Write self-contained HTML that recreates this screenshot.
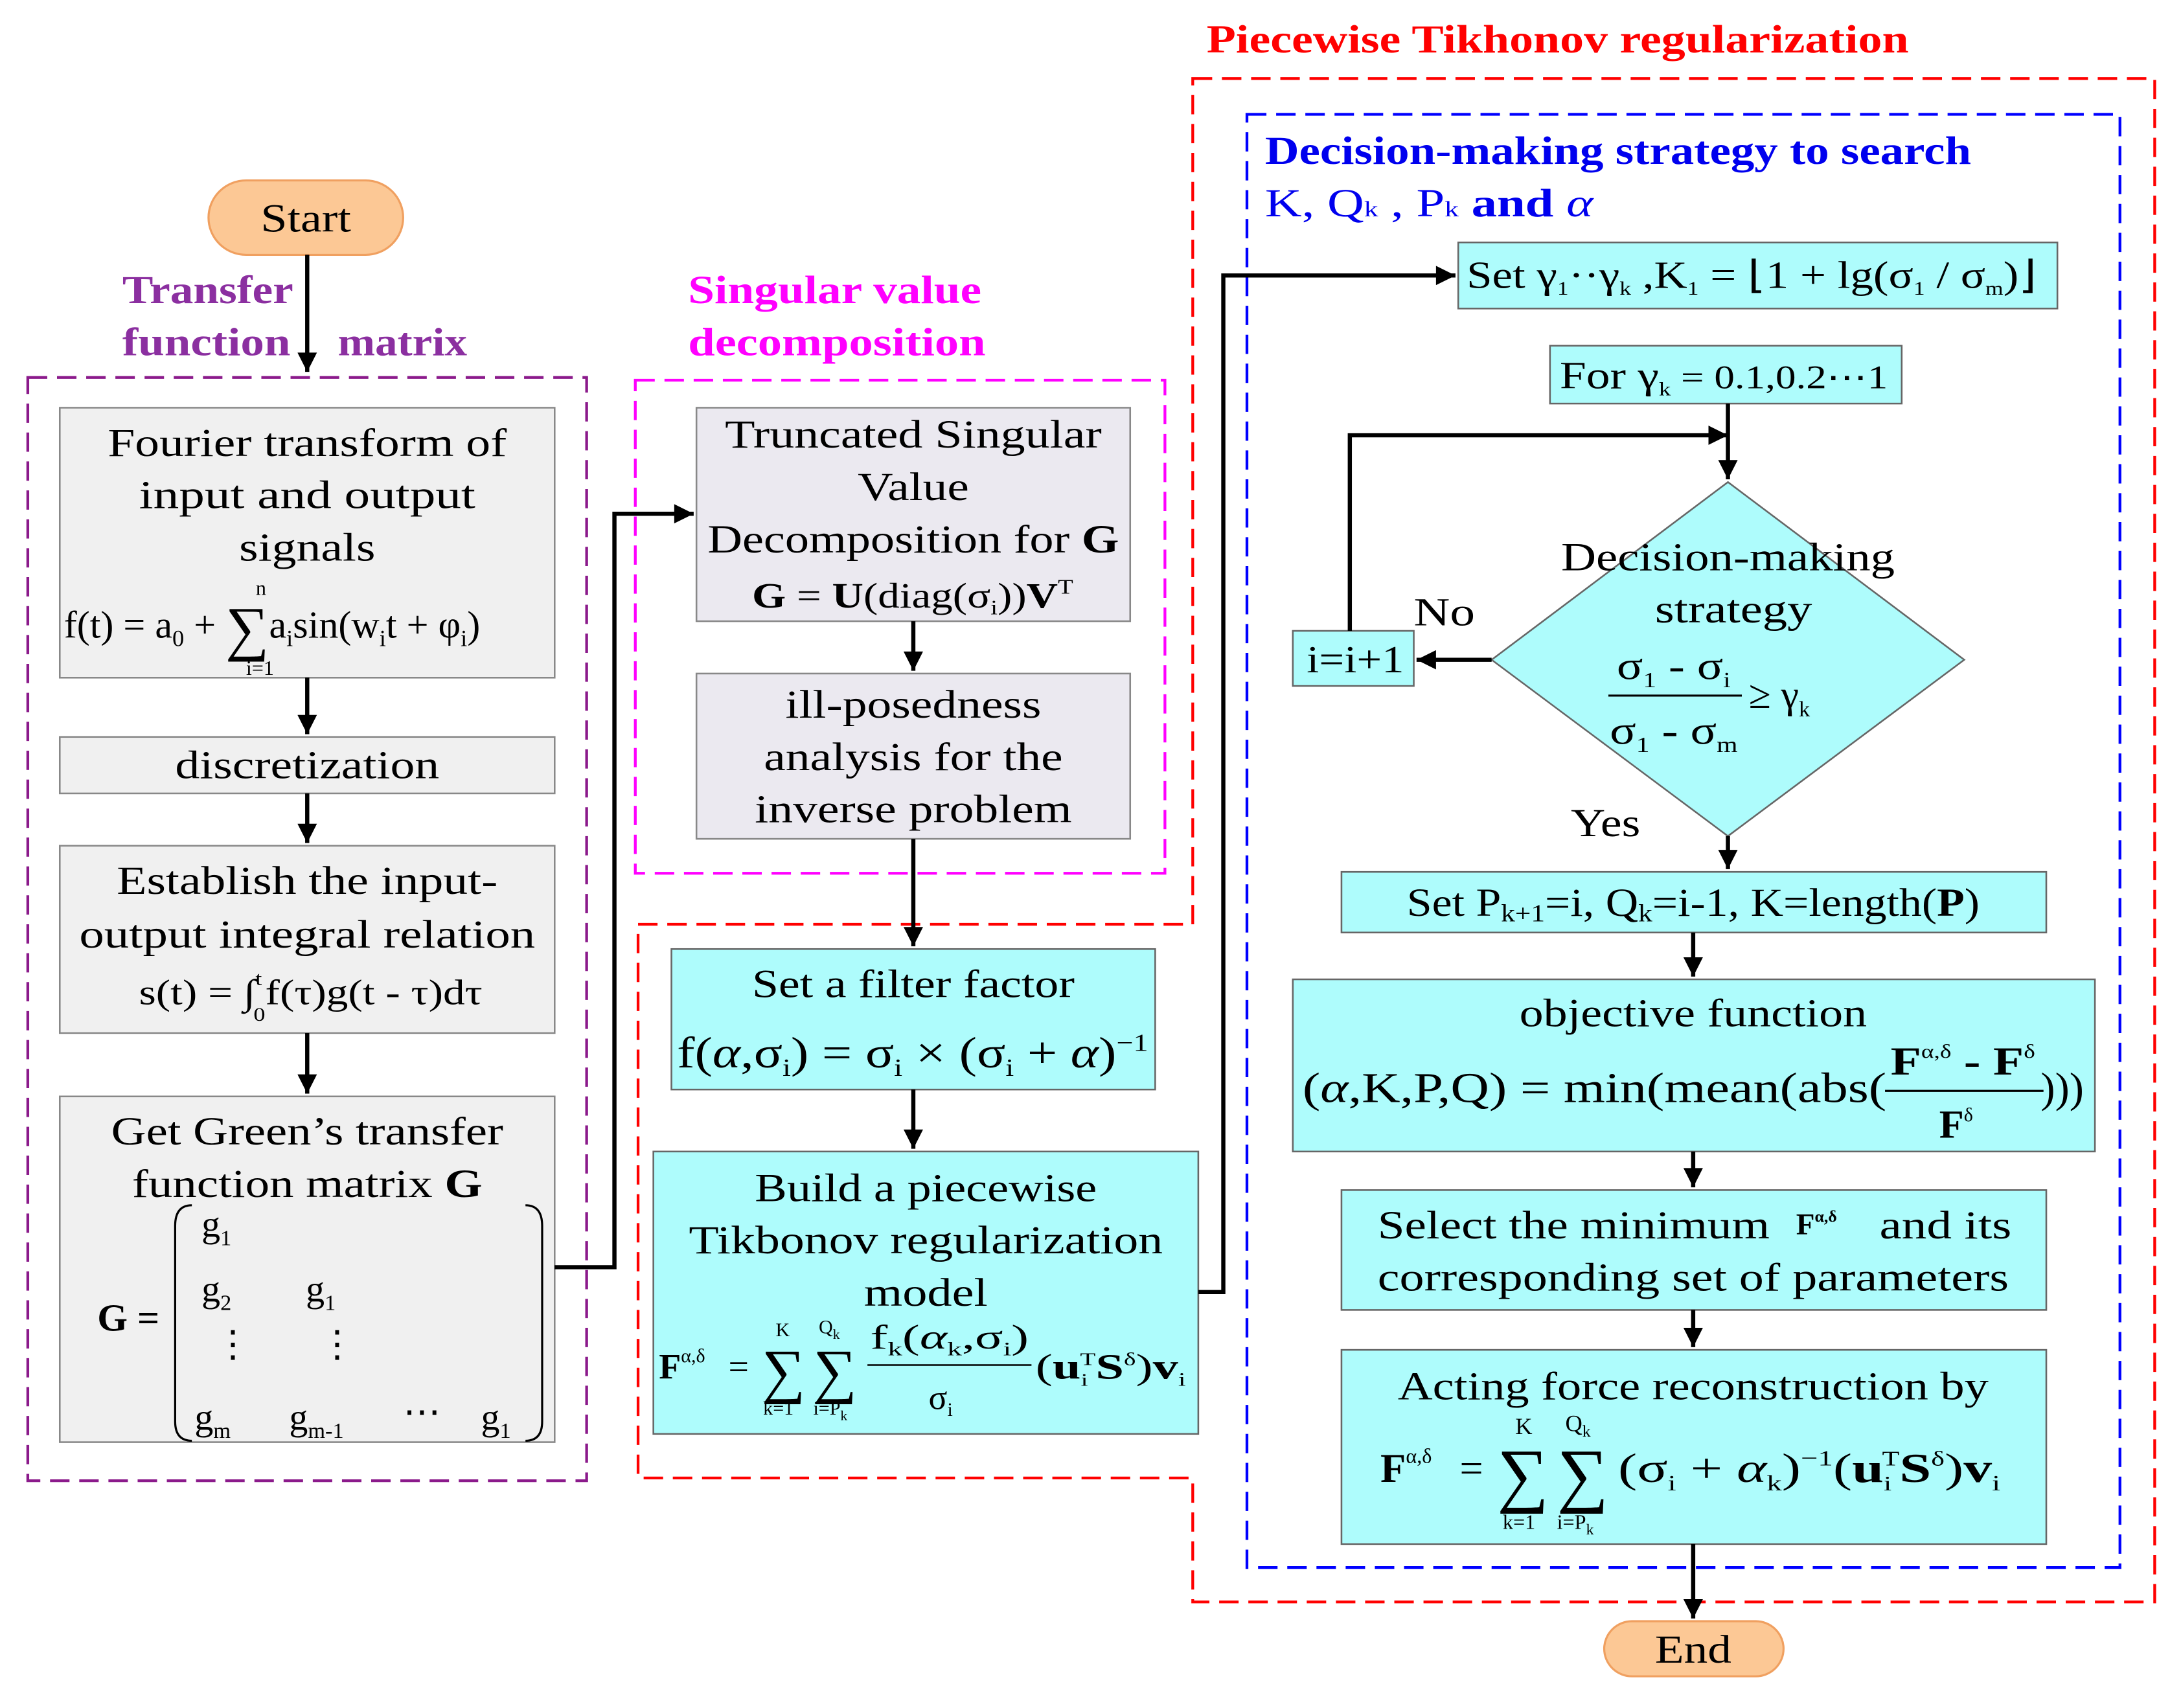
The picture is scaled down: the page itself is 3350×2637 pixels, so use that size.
<!DOCTYPE html>
<html><head><meta charset="utf-8"><style>
html,body{margin:0;padding:0;background:#fff}
svg{display:block}
text{font-family:"Liberation Serif",serif;fill:#000}
.t{font-size:29px}
.s{font-size:24px}
.b{font-weight:bold}
</style></head><body>
<svg width="3350" height="2637" viewBox="0 0 1561 1240" preserveAspectRatio="none" xmlns="http://www.w3.org/2000/svg">
<defs>
<marker id="A" viewBox="0 0 10 10" markerWidth="16" markerHeight="14" refX="10" refY="5" orient="auto" markerUnits="userSpaceOnUse"><path d="M0,0 L10,5 L0,10 z" fill="#000"/></marker></defs>
<!-- dashed containers -->
<rect x="20" y="274" width="402" height="801" fill="none" stroke="#8b1a8b" stroke-width="2" stroke-dasharray="14,7"/>
<rect x="457" y="276" width="381" height="358" fill="none" stroke="#ff00ff" stroke-width="2" stroke-dasharray="14,7"/>
<path d="M858,57 H1550 V1163 H858 V1073 H459 V671 H858 Z" fill="none" stroke="#ff0000" stroke-width="2" stroke-dasharray="14,7"/>
<rect x="897" y="83" width="628" height="1055" fill="none" stroke="#0000ff" stroke-width="2" stroke-dasharray="14,7"/>
<!-- titles -->
<text x="868" y="38" class="b" font-size="29" style="fill:#ff0000" textLength="505" lengthAdjust="spacingAndGlyphs">Piecewise Tikhonov regularization</text>
<text x="910" y="119" class="b" font-size="29" style="fill:#0000ee" textLength="508" lengthAdjust="spacingAndGlyphs">Decision-making strategy to search</text>
<text x="910" y="157" font-size="29" style="fill:#0000ee" textLength="236" lengthAdjust="spacingAndGlyphs">K, Q<tspan font-size="16">k</tspan> ,  P<tspan font-size="16">k</tspan>  <tspan font-weight="bold">and</tspan>  <tspan font-style="italic">α</tspan></text>
<text x="88" y="220" class="b" font-size="29" style="fill:#8b2fa0" textLength="123" lengthAdjust="spacingAndGlyphs">Transfer</text>
<text x="88" y="258" class="b" font-size="29" style="fill:#8b2fa0" textLength="121" lengthAdjust="spacingAndGlyphs">function</text>
<text x="243" y="258" class="b" font-size="29" style="fill:#8b2fa0" textLength="93" lengthAdjust="spacingAndGlyphs">matrix</text>
<text x="495" y="220" class="b" font-size="29" style="fill:#ff00ff" textLength="211" lengthAdjust="spacingAndGlyphs">Singular value</text>
<text x="495" y="258" class="b" font-size="29" style="fill:#ff00ff" textLength="214" lengthAdjust="spacingAndGlyphs">decomposition</text>
<!-- Start -->
<rect x="150" y="131" width="140" height="54" rx="27" fill="#fcc895" stroke="#f0a060" stroke-width="1.5"/>
<text x="220" y="168" class="t" text-anchor="middle" textLength="65" lengthAdjust="spacingAndGlyphs">Start</text>
<!-- left gray boxes -->
<g fill="#f0f0f0" stroke="#888" stroke-width="1.2">
<rect x="43" y="296" width="356" height="196"/>
<rect x="43" y="535" width="356" height="41"/>
<rect x="43" y="614" width="356" height="136"/>
<rect x="43" y="796" width="356" height="251"/>
</g>
<g class="t" text-anchor="middle" lengthAdjust="spacingAndGlyphs">
<text x="221" y="331" textLength="287" lengthAdjust="spacingAndGlyphs">Fourier transform of</text>
<text x="221" y="369" textLength="242" lengthAdjust="spacingAndGlyphs">input and output</text>
<text x="221" y="407" textLength="98" lengthAdjust="spacingAndGlyphs">signals</text>
<text x="221" y="565" textLength="190" lengthAdjust="spacingAndGlyphs">discretization</text>
<text x="221" y="649" textLength="274" lengthAdjust="spacingAndGlyphs">Establish the input-</text>
<text x="221" y="688" textLength="328" lengthAdjust="spacingAndGlyphs">output integral relation</text>
<text x="221" y="831" textLength="282" lengthAdjust="spacingAndGlyphs">Get Green’s transfer</text>
<text x="221" y="869" textLength="252" lengthAdjust="spacingAndGlyphs">function matrix <tspan font-weight="bold">G</tspan></text>
</g>
<text x="46" y="463" font-size="28">f(t) = a<tspan font-size="17" dy="6">0</tspan><tspan dy="-6"> + </tspan><tspan font-size="44" dy="8">∑</tspan><tspan dy="-8">a</tspan><tspan font-size="17" dy="6">i</tspan><tspan dy="-6">sin(w</tspan><tspan font-size="17" dy="6">i</tspan><tspan dy="-6">t + φ</tspan><tspan font-size="17" dy="6">i</tspan><tspan dy="-6">)</tspan></text>
<text x="184" y="432" font-size="15">n</text><text x="177" y="490" font-size="15">i=1</text>
<text x="100" y="729" font-size="26" textLength="247" lengthAdjust="spacingAndGlyphs">s(t) = ∫<tspan font-size="14" dy="-14">t</tspan><tspan font-size="14" dx="-5" dy="26">0</tspan><tspan dy="-12">f(τ)g(t - τ)dτ</tspan></text>
<!-- matrix -->
<text x="70" y="966" font-size="28" class="b">G =</text>
<path d="M138,875 Q126,875 126,890 V1032 Q126,1046 138,1046" fill="none" stroke="#000" stroke-width="1.5"/>
<path d="M378,875 Q390,875 390,890 V1032 Q390,1046 378,1046" fill="none" stroke="#000" stroke-width="1.5"/>
<g font-size="27">
<text x="145" y="898">g<tspan font-size="16" dy="6">1</tspan></text>
<text x="145" y="945">g<tspan font-size="16" dy="6">2</tspan></text>
<text x="220" y="945">g<tspan font-size="16" dy="6">1</tspan></text>
<text x="154" y="985">⋮</text><text x="229" y="985">⋮</text>
<text x="140" y="1038">g<tspan font-size="16" dy="6">m</tspan></text>
<text x="208" y="1038">g<tspan font-size="16" dy="6">m-1</tspan></text>
<text x="290" y="1034">⋯</text>
<text x="346" y="1038">g<tspan font-size="16" dy="6">1</tspan></text>
</g>
<!-- middle -->
<g fill="#ebe9f0" stroke="#888" stroke-width="1.2">
<rect x="501" y="296" width="312" height="155"/>
<rect x="501" y="489" width="312" height="120"/>
</g>
<g fill="#aefcfc" stroke="#666" stroke-width="1.2">
<rect x="483" y="689" width="348" height="102"/>
<rect x="470" y="836" width="392" height="205"/>
<rect x="1049" y="176" width="431" height="48"/>
<rect x="1115" y="251" width="253" height="42"/>
<polygon points="1243,350 1413,479 1243,607 1073,479"/>
<rect x="930" y="458" width="87" height="40"/>
<rect x="965" y="633" width="507" height="44"/>
<rect x="930" y="711" width="577" height="125"/>
<rect x="965" y="864" width="507" height="87"/>
<rect x="965" y="980" width="507" height="141"/>
</g>
<g class="t" text-anchor="middle">
<text x="657" y="325" textLength="271" lengthAdjust="spacingAndGlyphs">Truncated Singular</text>
<text x="657" y="363" textLength="80" lengthAdjust="spacingAndGlyphs">Value</text>
<text x="657" y="401" textLength="296" lengthAdjust="spacingAndGlyphs">Decomposition for <tspan font-weight="bold">G</tspan></text>
<text x="657" y="521" textLength="184" lengthAdjust="spacingAndGlyphs">ill-posedness</text>
<text x="657" y="559" textLength="215" lengthAdjust="spacingAndGlyphs">analysis for the</text>
<text x="657" y="597" textLength="228" lengthAdjust="spacingAndGlyphs">inverse problem</text>
<text x="657" y="724" textLength="232" lengthAdjust="spacingAndGlyphs">Set a filter factor</text>
<text x="666" y="872" textLength="246" lengthAdjust="spacingAndGlyphs">Build a piecewise</text>
<text x="666" y="910" textLength="341" lengthAdjust="spacingAndGlyphs">Tikbonov regularization</text>
<text x="666" y="948" textLength="89" lengthAdjust="spacingAndGlyphs">model</text>
<text x="1243" y="414" textLength="240" lengthAdjust="spacingAndGlyphs">Decision-making</text>
<text x="1247" y="452" textLength="113" lengthAdjust="spacingAndGlyphs">strategy</text>
<text x="1218" y="745" textLength="250" lengthAdjust="spacingAndGlyphs">objective function</text>
<text x="1218" y="937" textLength="454" lengthAdjust="spacingAndGlyphs">corresponding set of parameters</text>
<text x="1218" y="1016" textLength="425" lengthAdjust="spacingAndGlyphs">Acting force reconstruction by</text>
<text x="1218" y="1207" textLength="55" lengthAdjust="spacingAndGlyphs">End</text>
</g>
<text x="991" y="899" class="t" textLength="282" lengthAdjust="spacingAndGlyphs">Select the minimum</text>
<text x="1292" y="896" font-size="22" font-weight="bold">F<tspan font-size="12" dy="-9">α,δ</tspan></text>
<text x="1352" y="899" class="t" textLength="95" lengthAdjust="spacingAndGlyphs">and its</text>
<text x="541" y="441" font-size="26" textLength="231" lengthAdjust="spacingAndGlyphs"><tspan font-weight="bold">G</tspan> = <tspan font-weight="bold">U</tspan>(diag(σ<tspan font-size="15" dy="5">i</tspan><tspan dy="-5">))</tspan><tspan font-weight="bold">V</tspan><tspan font-size="15" dy="-10">T</tspan></text>
<text x="487" y="775" font-size="32" textLength="339" lengthAdjust="spacingAndGlyphs">f(<tspan font-style="italic">α</tspan>,σ<tspan font-size="18" dy="6">i</tspan><tspan dy="-6">) = σ</tspan><tspan font-size="18" dy="6">i</tspan><tspan dy="-6"> × (σ</tspan><tspan font-size="18" dy="6">i</tspan><tspan dy="-6"> + </tspan><tspan font-style="italic">α</tspan>)<tspan font-size="18" dy="-12">−1</tspan></text>
<!-- build formula -->
<text x="474" y="1001" font-size="26" font-weight="bold">F<tspan font-size="14" dy="-12" font-weight="normal">α,δ</tspan></text>
<text x="524" y="1001" font-size="26">=</text>
<text x="548" y="1010" font-size="44">∑</text><text x="585" y="1010" font-size="44">∑</text>
<text x="558" y="970" font-size="14">K</text><text x="589" y="968" font-size="14">Q<tspan font-size="10" dy="4">k</tspan></text>
<text x="549" y="1027" font-size="14">k=1</text><text x="585" y="1027" font-size="14">i=P<tspan font-size="10" dy="4">k</tspan></text>
<text x="626" y="979" font-size="25" textLength="114" lengthAdjust="spacingAndGlyphs">f<tspan font-size="14" dy="5">k</tspan><tspan dy="-5">(</tspan><tspan font-style="italic">α</tspan><tspan font-size="14" dy="5">k</tspan><tspan dy="-5">,σ</tspan><tspan font-size="14" dy="5">i</tspan><tspan dy="-5">)</tspan></text>
<line x1="624" y1="991" x2="742" y2="991" stroke="#000" stroke-width="1.2"/>
<text x="668" y="1023" font-size="25">σ<tspan font-size="14" dy="5">i</tspan></text>
<text x="745" y="1001" font-size="26" textLength="108" lengthAdjust="spacingAndGlyphs">(<tspan font-weight="bold">u</tspan><tspan font-size="13" dy="5">i</tspan><tspan font-size="13" dx="-4" dy="-15">T</tspan><tspan font-weight="bold" dy="10">S</tspan><tspan font-size="13" dy="-10">δ</tspan><tspan dy="10">)</tspan><tspan font-weight="bold">v</tspan><tspan font-size="14" dy="5">i</tspan></text>
<!-- right column texts -->
<text x="1055" y="209" font-size="28" textLength="410" lengthAdjust="spacingAndGlyphs">Set γ<tspan font-size="14" dy="5">1</tspan><tspan dy="-5">··γ</tspan><tspan font-size="14" dy="5">k</tspan><tspan dy="-5">  ,K</tspan><tspan font-size="14" dy="5">1</tspan><tspan dy="-5"> = ⌊1 + lg(σ</tspan><tspan font-size="14" dy="5">1</tspan><tspan dy="-5"> / σ</tspan><tspan font-size="14" dy="5">m</tspan><tspan dy="-5">)⌋</tspan></text>
<text x="1122" y="282" font-size="28" textLength="236" lengthAdjust="spacingAndGlyphs">For γ<tspan font-size="14" dy="5">k</tspan><tspan dy="-5" font-size="24"> = 0.1,0.2⋯1</tspan></text>
<text x="940" y="488" font-size="28" textLength="70" lengthAdjust="spacingAndGlyphs">i=i+1</text>
<text x="1017" y="454" font-size="29" textLength="44" lengthAdjust="spacingAndGlyphs">No</text>
<text x="1130" y="607" font-size="29" textLength="50" lengthAdjust="spacingAndGlyphs">Yes</text>
<text x="1163" y="493" font-size="29" textLength="82" lengthAdjust="spacingAndGlyphs">σ<tspan font-size="16" dy="6">1</tspan><tspan dy="-6"> - σ</tspan><tspan font-size="16" dy="6">i</tspan></text>
<line x1="1157" y1="505" x2="1253" y2="505" stroke="#000" stroke-width="1.5"/>
<text x="1158" y="540" font-size="29" textLength="92" lengthAdjust="spacingAndGlyphs">σ<tspan font-size="16" dy="6">1</tspan><tspan dy="-6"> - σ</tspan><tspan font-size="16" dy="6">m</tspan></text>
<text x="1258" y="514" font-size="29">≥ γ<tspan font-size="16" dy="6">k</tspan></text>
<text x="1218" y="665" class="t" text-anchor="middle" textLength="412" lengthAdjust="spacingAndGlyphs">Set P<tspan font-size="18" dy="4">k+1</tspan><tspan dy="-4">=i, Q</tspan><tspan font-size="18" dy="4">k</tspan><tspan dy="-4">=i-1, K=length(</tspan><tspan font-weight="bold">P</tspan>)</text>
<text x="937" y="800" font-size="31" textLength="420" lengthAdjust="spacingAndGlyphs">(<tspan font-style="italic">α</tspan>,K,P,Q) = min(mean(abs(</text>
<text x="1360" y="780" font-size="29" font-weight="bold" textLength="104" lengthAdjust="spacingAndGlyphs">F<tspan font-size="14" dy="-12" font-weight="normal">α,δ</tspan><tspan dy="12"> - F</tspan><tspan font-size="14" dy="-12" font-weight="normal">δ</tspan></text>
<line x1="1356" y1="792" x2="1470" y2="792" stroke="#000" stroke-width="1.5"/>
<text x="1395" y="826" font-size="29" font-weight="bold">F<tspan font-size="14" dy="-12" font-weight="normal">δ</tspan></text>
<text x="1468" y="800" font-size="31">)))</text>
<!-- acting formula -->
<text x="993" y="1076" font-size="30" font-weight="bold">F<tspan font-size="15" dy="-14" font-weight="normal">α,δ</tspan></text>
<text x="1050" y="1076" font-size="30">=</text>
<text x="1077" y="1088" font-size="52">∑</text><text x="1120" y="1088" font-size="52">∑</text>
<text x="1090" y="1041" font-size="17">K</text><text x="1126" y="1039" font-size="17">Q<tspan font-size="12" dy="4">k</tspan></text>
<text x="1081" y="1110" font-size="15">k=1</text><text x="1120" y="1110" font-size="15">i=P<tspan font-size="11" dy="4">k</tspan></text>
<text x="1164" y="1076" font-size="30" textLength="275" lengthAdjust="spacingAndGlyphs">(σ<tspan font-size="16" dy="6">i</tspan><tspan dy="-6"> + </tspan><tspan font-style="italic">α</tspan><tspan font-size="16" dy="6">k</tspan><tspan dy="-6">)</tspan><tspan font-size="16" dy="-12">−1</tspan><tspan dy="12">(</tspan><tspan font-weight="bold">u</tspan><tspan font-size="15" dy="6">i</tspan><tspan font-size="15" dx="-5" dy="-18">T</tspan><tspan font-weight="bold" dy="12">S</tspan><tspan font-size="15" dy="-12">δ</tspan><tspan dy="12">)</tspan><tspan font-weight="bold">v</tspan><tspan font-size="16" dy="6">i</tspan></text>
<!-- End -->
<rect x="1154" y="1177" width="129" height="40" rx="20" fill="#fcc895" stroke="#f0a060" stroke-width="1.5"/>
<text x="1218" y="1207" class="t" text-anchor="middle" textLength="55" lengthAdjust="spacingAndGlyphs">End</text>
<!-- arrows -->
<g stroke="#000" stroke-width="3" fill="none" marker-end="url(#A)">
<path d="M221,185 V270"/>
<path d="M221,492 V533"/>
<path d="M221,576 V612"/>
<path d="M221,750 V794"/>
<path d="M399,920 H442 V373 H499"/>
<path d="M657,451 V487"/>
<path d="M657,609 V687"/>
<path d="M657,791 V834"/>
<path d="M862,938 H880 V200 H1047"/>
<path d="M1243,293 V348"/>
<path d="M971,458 V316 H1243"/>
<path d="M1073,479 H1019"/>
<path d="M1243,607 V631"/>
<path d="M1218,677 V709"/>
<path d="M1218,836 V862"/>
<path d="M1218,951 V978"/>
<path d="M1218,1121 V1175"/>
</g>
</svg>
</body></html>
